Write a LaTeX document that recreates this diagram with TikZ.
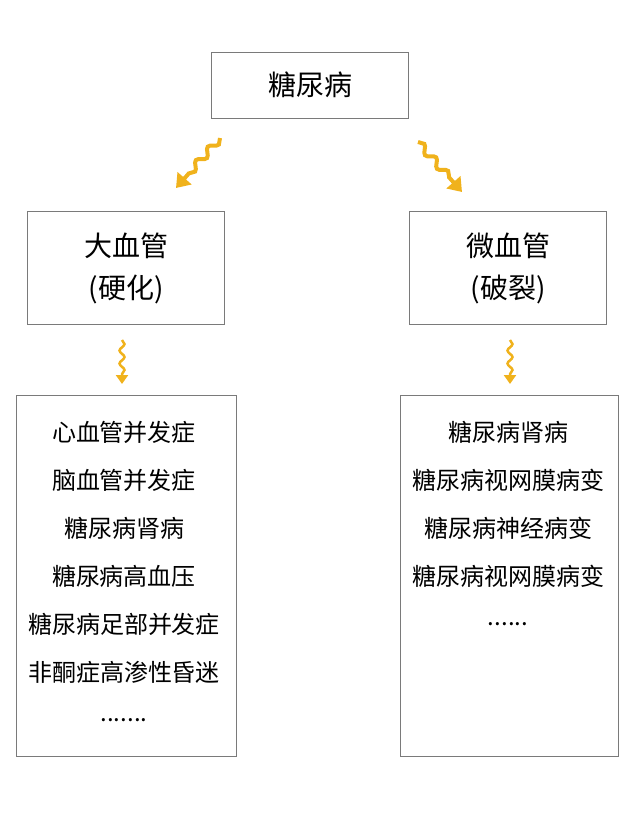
\documentclass[tikz,border=0pt]{standalone}
\usepackage{fontspec}
\setmainfont{Noto Sans CJK SC}
\usetikzlibrary{arrows.meta,decorations.pathmorphing}
\definecolor{wavy}{HTML}{F0B21C}
\definecolor{frame}{HTML}{7A7A7A}
\begin{document}
\begin{tikzpicture}[x=1pt,y=-1pt,
  box/.style={draw=frame,line width=0.8pt,minimum width=#1},
  box/.default=197pt,
  wave/.style={wavy,line width=4pt,-{Triangle[length=13pt,width=18pt]},
    decorate,decoration={snake,amplitude=3.5pt,segment length=18pt,post length=12pt}},
  item/.style={font=\fontsize{24}{24}\selectfont,inner sep=0pt}]
\useasboundingbox (0,0) rectangle (640,817);
% boxes
\node[box,minimum height=66pt,font=\fontsize{28}{28}\selectfont] (dm) at (310,85) {糖尿病};
\node[box,minimum height=113pt,align=center,font=\fontsize{28}{42}\selectfont] (big) at (126,268) {大血管\\(硬化)};
\node[box,minimum height=113pt,align=center,font=\fontsize{28}{42}\selectfont] (small) at (508,268) {微血管\\(破裂)};
\node[box=220pt,minimum height=361pt] (bl) at (126,576) {};
\node[box=218pt,minimum height=361pt] (sl) at (509,576) {};
% list items
\foreach \t [count=\i] in {心血管并发症,脑血管并发症,糖尿病肾病,糖尿病高血压,糖尿病足部并发症,非酮症高渗性昏迷}
  \node[item] (b\i) at (124,384+48*\i) {\t};
\node[item] (b7) at (124,720) {.......};
\foreach \t [count=\i] in {糖尿病肾病,糖尿病视网膜病变,糖尿病神经病变,糖尿病视网膜病变}
  \node[item] (s\i) at (508,384+48*\i) {\t};
\node[item] (s5) at (508,624) {......};
% arrows
\coordinate (a1) at (220,138); \coordinate (a2) at (176,188);
\coordinate (a3) at (418,142); \coordinate (a4) at (462,192);
\coordinate (a5) at (122,340); \coordinate (a6) at (122,384);
\coordinate (a7) at (510,340); \coordinate (a8) at (510,384);
\draw[wave] (a1) -- (a2);
\draw[wave] (a3) -- (a4);
\draw[wave,line width=2.5pt,-{Triangle[length=9pt,width=12pt]},decoration={snake,amplitude=2.5pt,segment length=13pt,post length=9pt}] (a5) -- (a6);
\draw[wave,line width=2.5pt,-{Triangle[length=9pt,width=12pt]},decoration={snake,amplitude=2.5pt,segment length=13pt,post length=9pt}] (a7) -- (a8);
\end{tikzpicture}
\end{document}
